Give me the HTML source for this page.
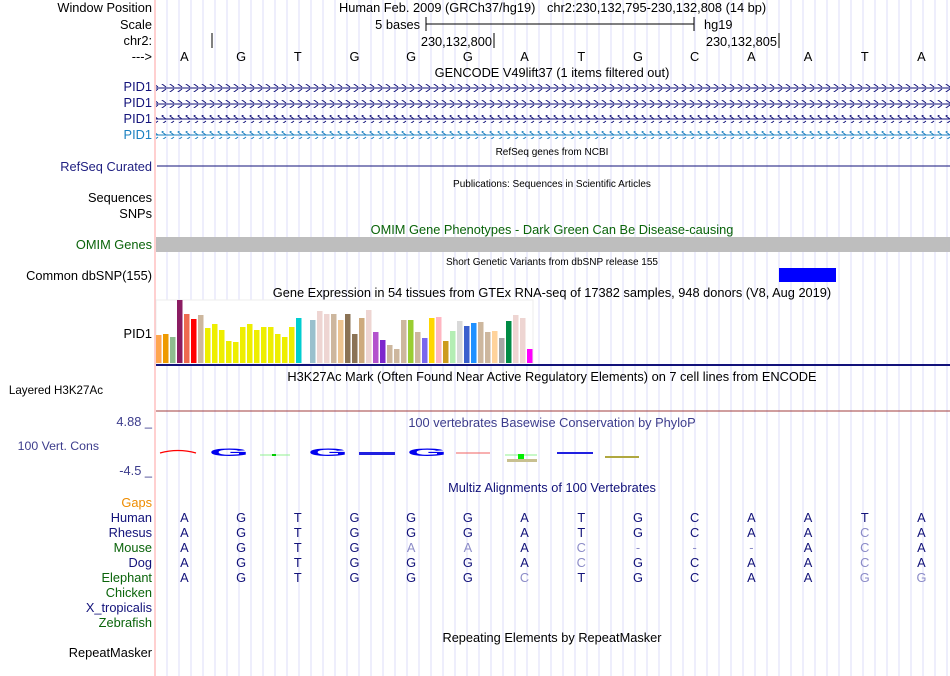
<!DOCTYPE html>
<html><head><meta charset="utf-8"><style>
html,body{margin:0;padding:0;background:#fff;width:950px;height:676px;overflow:hidden}
svg{display:block;font-family:"Liberation Sans",sans-serif}
</style></head><body>
<svg id="c" width="950" height="676" viewBox="0 0 950 676">
<g id="grid"></g>
<line x1="155" y1="0" x2="155" y2="676" stroke="#ffb0b0" stroke-width="1.2"/>
<g font-size="12.8" text-anchor="end">
<text x="152" y="12" fill="#000">Window Position</text>
<text x="152" y="29" fill="#000">Scale</text>
<text x="152" y="45" fill="#000">chr2:</text>
<text x="152" y="61" fill="#000">---&gt;</text>
<text x="152" y="91" fill="#12127a">PID1</text>
<text x="152" y="107" fill="#12127a">PID1</text>
<text x="152" y="123" fill="#12127a">PID1</text>
<text x="152" y="139" fill="#1a80c0">PID1</text>
<text x="152" y="171" fill="#1e1e80">RefSeq Curated</text>
<text x="152" y="202" fill="#000">Sequences</text>
<text x="152" y="218" fill="#000">SNPs</text>
<text x="152" y="249" fill="#0a640a">OMIM Genes</text>
<text x="152" y="280" fill="#000">Common dbSNP(155)</text>
<text x="152" y="338" fill="#000">PID1</text>
<text x="103" y="394" fill="#000" font-size="11.6" text-anchor="end">Layered H3K27Ac</text>
<text x="152" y="426" fill="#3c3c8c">4.88 _</text>
<text x="99" y="450" fill="#3c3c8c" font-size="12.3">100 Vert. Cons</text>
<text x="152" y="475" fill="#3c3c8c">-4.5 _</text>
<text x="152" y="507" fill="#ee8c00">Gaps</text>
<text x="152" y="522" fill="#12127a">Human</text>
<text x="152" y="537" fill="#12127a">Rhesus</text>
<text x="152" y="552" fill="#0a640a">Mouse</text>
<text x="152" y="567" fill="#12127a">Dog</text>
<text x="152" y="582" fill="#0a640a">Elephant</text>
<text x="152" y="597" fill="#0a640a">Chicken</text>
<text x="152" y="612" fill="#12127a">X_tropicalis</text>
<text x="152" y="627" fill="#0a640a">Zebrafish</text>
<text x="152" y="657" fill="#000">RepeatMasker</text>
</g>
<g font-size="12.8" fill="#000">
<text x="339" y="12">Human Feb. 2009 (GRCh37/hg19)</text>
<text x="547" y="12">chr2:230,132,795-230,132,808 (14 bp)</text>
<text x="420" y="29" text-anchor="end">5 bases</text>
<line x1="426" y1="24" x2="694" y2="24" stroke="#000"/>
<line x1="426" y1="17" x2="426" y2="31" stroke="#000"/>
<line x1="694" y1="17" x2="694" y2="31" stroke="#000"/>
<text x="704" y="29">hg19</text>
<line x1="212" y1="33" x2="212" y2="48" stroke="#000"/>
<text x="492" y="46" text-anchor="end">230,132,800</text>
<line x1="494" y1="33" x2="494" y2="48" stroke="#000"/>
<text x="777" y="46" text-anchor="end">230,132,805</text>
<line x1="779" y1="33" x2="779" y2="48" stroke="#000"/>
</g>
<g id="bases" font-size="12.8" text-anchor="middle"></g>
<g font-size="12.8" text-anchor="middle">
<text x="552" y="77" fill="#000">GENCODE V49lift37 (1 items filtered out)</text>
<text x="552" y="155" font-size="10" fill="#000">RefSeq genes from NCBI</text>
<text x="552" y="187" font-size="10" fill="#000">Publications: Sequences in Scientific Articles</text>
<text x="552" y="234" fill="#0a640a">OMIM Gene Phenotypes - Dark Green Can Be Disease-causing</text>
<text x="552" y="265" font-size="10" fill="#000">Short Genetic Variants from dbSNP release 155</text>
<text x="552" y="297" fill="#000">Gene Expression in 54 tissues from GTEx RNA-seq of 17382 samples, 948 donors (V8, Aug 2019)</text>
<text x="552" y="381" fill="#000">H3K27Ac Mark (Often Found Near Active Regulatory Elements) on 7 cell lines from ENCODE</text>
<text x="552" y="427" fill="#3c3c8c">100 vertebrates Basewise Conservation by PhyloP</text>
<text x="552" y="492" fill="#12127a">Multiz Alignments of 100 Vertebrates</text>
<text x="552" y="642" fill="#000">Repeating Elements by RepeatMasker</text>
</g>
<defs>
<pattern id="chev" x="0" y="0" width="8" height="8" patternUnits="userSpaceOnUse"><path d="M6,1 L2,4 L6,7" fill="none" stroke="#12127a" stroke-width="1"/></pattern>
<pattern id="chev2" x="0" y="0" width="8" height="8" patternUnits="userSpaceOnUse"><path d="M6,1 L2,4 L6,7" fill="none" stroke="#1a80c0" stroke-width="1"/></pattern>
</defs>
<g>
<line x1="156" y1="88" x2="950" y2="88" stroke="#12127a"/><rect x="156" y="84" width="794" height="8" fill="url(#chev)"/>
<line x1="156" y1="104" x2="950" y2="104" stroke="#12127a"/><rect x="156" y="100" width="794" height="8" fill="url(#chev)"/>
<line x1="156" y1="119" x2="950" y2="119" stroke="#12127a"/><rect x="156" y="115" width="794" height="8" fill="url(#chev)"/>
<line x1="156" y1="135" x2="950" y2="135" stroke="#1a80c0"/><rect x="156" y="131" width="794" height="8" fill="url(#chev2)"/>
</g>
<line x1="157" y1="166" x2="950" y2="166" stroke="#12127a"/>
<rect x="156" y="237" width="794" height="15" fill="#bebebe"/>
<rect x="779" y="268" width="57" height="14" fill="#0000ff"/>
<rect x="156" y="300" width="377" height="64" fill="#fff" stroke="#eeeeee"/>
<g id="gtex"></g>
<rect x="156" y="364" width="794" height="2" fill="#12127a"/>
<line x1="156" y1="411" x2="950" y2="411" stroke="#a03c3c"/>
<g>
<path d="M160,453 Q178,448 196,453" fill="none" stroke="#f00" stroke-width="1.2"/>
<text x="229" y="456" font-size="16" font-weight="bold" fill="#0000ee" text-anchor="middle" transform="translate(229,456) scale(3.2,0.7) translate(-229,-456)">G</text>
<line x1="260" y1="455" x2="290" y2="455" stroke="#90f090"/><rect x="272" y="454" width="4" height="2" fill="#0c0"/>
<text x="328" y="456" font-size="16" font-weight="bold" fill="#0000ee" text-anchor="middle" transform="translate(328,456) scale(3.2,0.7) translate(-328,-456)">G</text>
<rect x="359" y="452" width="36" height="3" fill="#2020e0"/>
<text x="427" y="456" font-size="16" font-weight="bold" fill="#0000ee" text-anchor="middle" transform="translate(427,456) scale(3.2,0.7) translate(-427,-456)">G</text>
<line x1="456" y1="453" x2="490" y2="453" stroke="#f06060"/>
<line x1="505" y1="455" x2="537" y2="455" stroke="#90f090"/><rect x="518" y="454" width="6" height="5" fill="#0e0"/>
<rect x="507" y="459" width="30" height="3" fill="#c8c090"/>
<rect x="557" y="452" width="36" height="2" fill="#2020e0"/>
<rect x="605" y="456" width="34" height="2" fill="#b0a840"/>
</g>
<g id="multiz" font-size="12.8" text-anchor="middle"></g>
<script>
const bases = ["A","G","T","G","G","G","A","T","G","C","A","A","T","A"];
const species = ["Human","Rhesus","Mouse","Dog","Elephant"];
const seqHuman = ["A","G","T","G","G","G","A","T","G","C","A","A","T","A"];
const seqRhesus = ["A","G","T","G","G","G","A","T","G","C","A","A","C","A"];
const seqMouse = ["A","G","T","G","A","A","A","C","-","-","-","A","C","A"];
const seqDog = ["A","G","T","G","G","G","A","C","G","C","A","A","C","A"];
const seqElephant = ["A","G","T","G","G","G","C","T","G","C","A","A","G","G"];
const gtexValues = [28,29,26,63,49,44,48,35,39,33,22,21,36,39,33,36,36,29,26,36,45,0,43,52,49,49,43,49,29,45,53,31,23,18,14,43,43,31,25,45,46,22,32,42,37,40,41,31,32,25,42,48,45,14];
const gtexColors = ["#FFA54F","#EE9A00","#8FBC8F","#8B1C62","#EE6A50","#FF0000","#CDB79E","#EEEE00","#EEEE00","#EEEE00","#EEEE00","#EEEE00","#EEEE00","#EEEE00","#EEEE00","#EEEE00","#EEEE00","#EEEE00","#EEEE00","#EEEE00","#00CED1","#FFFFFF","#9AC0CD","#EED5D2","#EED5D2","#CDB79E","#EEC591","#8B7355","#8B7355","#CDAA7D","#EED5D2","#B452CD","#7D26CD","#CDB79E","#CDB79E","#CDB79E","#9ACD32","#CDB79E","#7A67EE","#FFD700","#FFB6C1","#CD9B1D","#B4EEB4","#D9D9D9","#3A5FCD","#1E90FF","#CDB79E","#CDB79E","#FFD39B","#A6A6A6","#008B45","#EED5D2","#EED5D2","#FF00FF"];
const NS="http://www.w3.org/2000/svg";
function mk(t,a){const e=document.createElementNS(NS,t);for(const k in a)e.setAttribute(k,a[k]);return e;}
const baseX = i => 156 + (i+0.5)*56.7;
const grid=document.getElementById('grid');
for(let x=167;x<950;x+=12){const l=mk('line',{x1:x,y1:0,x2:x,y2:676,stroke:'#dcdcf8'});


grid.appendChild(l);}
const bg=document.getElementById('bases');
bases.forEach((b,i)=>{const t=mk('text',{x:baseX(i),y:61});t.textContent=b;


bg.appendChild(t);});
const seqs=[seqHuman,seqRhesus,seqMouse,seqDog,seqElephant];
const mz=document.getElementById('multiz');
seqs.forEach((s,r)=>{s.forEach((b,i)=>{const same=b===seqHuman[i];
const t=mk('text',{x:baseX(i),y:522+r*15,fill:(r===0||same)?'#12127a':'#8c8cc8'});t.textContent=b;


mz.appendChild(t);});});
const gx=document.getElementById('gtex');
const barY = v => 363 - v;
gtexValues.forEach((v,i)=>{if(v<=0)return;const r=mk('rect',{x:156+i*7,y:barY(v),width:5.5,height:v,fill:gtexColors[i]});


gx.appendChild(r);});
</script>
</svg>
</body></html>
